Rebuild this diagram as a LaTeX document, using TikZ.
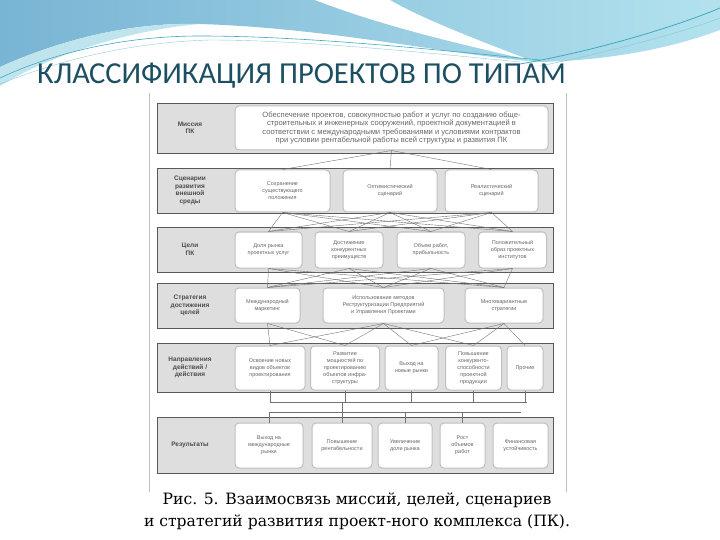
\documentclass[tikz,border=0pt]{standalone}
\usepackage{fontspec}
\setmainfont{DejaVu Serif}
\newfontfamily\ttlfont{Carlito}
\newfontfamily\scanfont{Liberation Sans}
\usepackage{tikz}
\definecolor{ttlblue}{HTML}{1D4F63}
\definecolor{skyA}{HTML}{78B4D4}
\definecolor{skyB}{HTML}{B3E2EE}
\definecolor{paleA}{HTML}{BFE4EE}
\definecolor{streak}{HTML}{3FA9BF}
\definecolor{bandgray}{HTML}{DEDEDE}

\begin{document}
\begin{tikzpicture}[x=1pt,y=-1pt,
  band/.style={draw=black!65, line width=0.6pt, fill=bandgray, minimum width=396pt, inner sep=0pt},
  lbl/.style={font=\scanfont\fontsize{6.5}{7.5}\selectfont\bfseries, text=black!70, align=center},
  blk/.style={draw=black!25, line width=1pt, rounded corners=4pt, fill=white, align=center,
    inner sep=1pt, font=\scanfont\fontsize{5.5}{7}\selectfont, text=black!60},
  link/.style={draw=black!55, line width=0.4pt}]
\useasboundingbox (0,0) rectangle (720,540);
% slide background
\shade[left color=skyA, right color=skyB] (0,0) -- (720,0) -- (720,30)
  .. controls (680,45) and (620,60) .. (540,62) .. controls (450,55) and (330,28) .. (200,24)
  .. controls (130,22) and (60,40) .. (0,67) -- cycle;
\fill[paleA] (0,67) .. controls (60,40) and (130,22) .. (200,24)
  .. controls (130,30) and (50,55) .. (0,86) -- cycle;
\fill[white] (315,0) .. controls (380,25) and (450,42) .. (530,60) .. controls (450,30) and (410,12) .. (390,0) -- cycle;
\draw[streak, line width=0.6pt] (0,78) .. controls (60,50) and (130,36) .. (200,36) .. controls (300,36) and (420,48) .. (540,60);
\draw[streak!60, line width=0.4pt] (0,84) .. controls (70,56) and (140,42) .. (210,40) .. controls (300,40) and (420,52) .. (520,62);
\draw[streak, line width=0.8pt] (520,64) .. controls (600,50) and (680,25) .. (720,8);
\draw[streak!60, line width=0.5pt] (540,66) .. controls (610,52) and (690,30) .. (720,18);
\node[anchor=base west, font=\ttlfont\fontsize{30.5}{30}\selectfont, text=ttlblue, inner sep=0pt] (ttl) at (37,84)
  {КЛАССИФИКАЦИЯ ПРОЕКТОВ ПО ТИПАМ};
%
% scanned figure
\draw[black!25] (149,93) -- (149,492);
\draw[black!25] (566,93) -- (566,492);
\node[band, minimum height=50pt] (b1) at (355,128) {};
\node[band, minimum height=45pt] (b2) at (355,190.5) {};
\node[band, minimum height=45pt] (b3) at (355,249.5) {};
\node[band, minimum height=45pt] (b4) at (355,305.5) {};
\node[band, minimum height=49pt] (b5) at (355,367.5) {};
\node[band, minimum height=56pt] (b6) at (355,445) {};
\node[lbl] (l1) at (190,128) {Миссия\\ПК};
\node[lbl] (l2) at (190,190.5) {Сценарии\\развития\\внешной\\среды};
\node[lbl] (l3) at (190,249.5) {Цели\\ПК};
\node[lbl] (l4) at (190,305.5) {Стратегия\\достижения\\целей};
\node[lbl] (l5) at (190,367.5) {Направления\\действий /\\действия};
\node[lbl] (l6) at (190,445) {Результаты};
%
\node[blk, minimum width=313pt, minimum height=44pt, font=\scanfont\fontsize{7.6}{8.6}\selectfont] (mis) at (391.5,128)
  {Обеспечение проектов, совокупностью работ и услуг по созданию обще-\\
   строительных и инженерных сооружений, проектной документацией в\\
   соответствии с международными требованиями и условиями контрактов\\
   при условии рентабельной работы всей структуры и развития ПК};
%
\node[blk, minimum width=95pt, minimum height=42pt] (sc1) at (282.5,191) {Сохранение\\существующего\\положения};
\node[blk, minimum width=94pt, minimum height=42pt] (sc2) at (390,191) {Оптимистический\\сценарий};
\node[blk, minimum width=93pt, minimum height=42pt] (sc3) at (491.5,191) {Реалистический\\сценарий};
%
\node[blk, minimum width=67pt, minimum height=36pt] (gl1) at (268.5,250) {Доля рынка\\проектных услуг};
\node[blk, minimum width=68pt, minimum height=36pt] (gl2) at (349,250) {Достижение\\конкурентных\\преимуществ};
\node[blk, minimum width=68pt, minimum height=36pt] (gl3) at (431,250) {Объем работ,\\прибыльность};
\node[blk, minimum width=68pt, minimum height=36pt] (gl4) at (512.5,250) {Положительный\\образ проектных\\институтов};
%
\node[blk, minimum width=65pt, minimum height=35pt] (st1) at (267.5,305.5) {Международный\\маркетинг};
\node[blk, minimum width=121pt, minimum height=35pt] (st2) at (383.5,305.5) {Использование методов\\Реструктуризации Предприятий\\и Управления Проектами};
\node[blk, minimum width=78pt, minimum height=35pt] (st3) at (504,305.5) {Многовариантные\\стратегии};
%
\node[blk, minimum width=70pt, minimum height=44pt] (dr1) at (270,368) {Освоение новых\\видов объектов\\проектирования};
\node[blk, minimum width=69pt, minimum height=44pt] (dr2) at (345,368) {Развитие\\мощностей по\\проектированию\\объектов инфра-\\структуры};
\node[blk, minimum width=53pt, minimum height=44pt] (dr3) at (411.5,368) {Выход на\\новые рынки};
\node[blk, minimum width=56pt, minimum height=44pt] (dr4) at (473.5,368) {Повышение\\конкуренто-\\способности\\проектной\\продукции};
\node[blk, minimum width=36pt, minimum height=44pt] (dr5) at (525,368) {Прочие};
%
\node[blk, minimum width=68pt, minimum height=45pt] (rs1) at (269,445.5) {Выход на\\международные\\рынки};
\node[blk, minimum width=60pt, minimum height=45pt] (rs2) at (342,445.5) {Повышение\\рентабельности};
\node[blk, minimum width=54pt, minimum height=45pt] (rs3) at (405,445.5) {Увеличение\\доли рынка};
\node[blk, minimum width=45pt, minimum height=45pt] (rs4) at (462.5,445.5) {Рост\\объемов\\работ};
\node[blk, minimum width=55pt, minimum height=45pt] (rs5) at (520.5,445.5) {Финансовая\\устойчивость};
%
% links between the rows
\foreach \s in {sc1,sc2,sc3} \draw[link] (mis.south) -- (\s.north);
\foreach \s in {sc1,sc2,sc3} \foreach \g in {gl1,gl2,gl3,gl4} \draw[link] (\s.south) -- (\g.north);
\foreach \g in {gl1,gl2,gl3,gl4} \foreach \s in {st1,st2,st3} \draw[link] (\g.south) -- (\s.north);
\foreach \s/\d in {st1/dr1,st1/dr2,st2/dr1,st2/dr2,st2/dr3,st2/dr4,st3/dr3,st3/dr4,st3/dr5}
  \draw[link] (\s.south) -- (\d.north);
\coordinate (busA) at (270,402);
\coordinate (busB) at (527,402);
\coordinate (busC) at (269,412);
\coordinate (busD) at (521,412);
\draw[link] (busA) -- (busB);
\draw[link] (busC) -- (busD);
\foreach \d in {dr1,dr2,dr3,dr4,dr5} \draw[link] (\d.south) -- (\d.south |- busA);
\foreach \r in {rs1,rs2,rs3,rs4} \draw[link] (\r.north) -- (\r.north |- busC);
\draw[link] (busA -| rs2.north) -- (busC -| rs2.north);
%
\node[font=\fontsize{15.6}{22}\selectfont, align=center] (cap) at (357,511)
  {Рис. 5. Взаимосвязь миссий, целей, сценариев\\и стратегий развития проект-ного комплекса (ПК).};
\end{tikzpicture}
\end{document}
